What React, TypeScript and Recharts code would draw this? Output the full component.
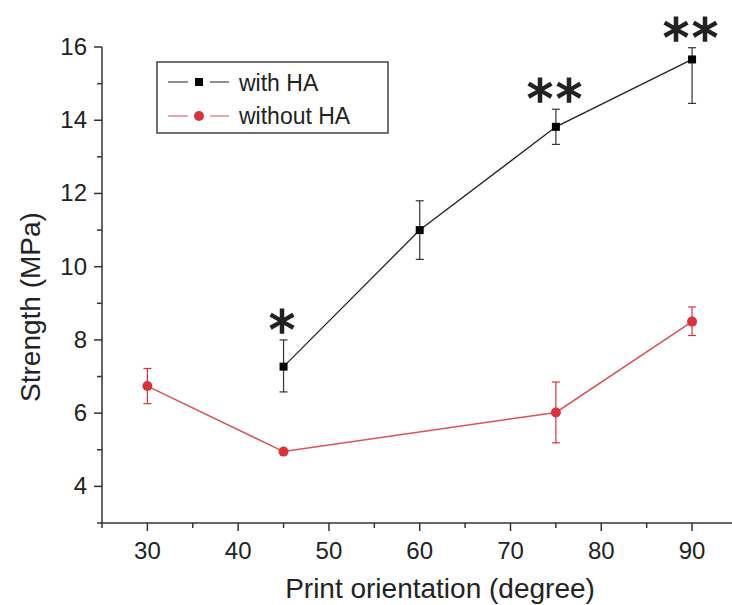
import React from 'react';
import {
  ComposedChart,
  Line,
  Scatter,
  XAxis,
  YAxis,
  ErrorBar,
  Legend,
  Label,
} from 'recharts';

// orientation in degrees
const angles = [30, 45, 60, 75, 90];

// with HA (no sample at 30)
const withHA = [null, 7.27, 11.0, 13.82, 15.66];
const withHALow = [0, 0.69, 0.8, 0.48, 1.2];
const withHAHigh = [0, 0.73, 0.8, 0.48, 0.32];
const significance = ['', '*', '', '**', '**'];

// without HA
const withoutHA = [6.74, 4.95, null, 6.02, 8.5];
const withoutHALow = [0.48, 0, 0, 0.83, 0.38];
const withoutHAHigh = [0.48, 0, 0, 0.83, 0.4];

const xTicks = [25, 30, 35, 40, 45, 50, 55, 60, 65, 70, 75, 80, 85, 90];
const yTicks = [3, 4, 5, 6, 7, 8, 9, 10, 11, 12, 13, 14, 15, 16];

const FONT = '"Liberation Sans", Arial, sans-serif';
const RED = '#d8333c';

const withData = angles
  .map((a, i) => ({
    angle: a,
    value: withHA[i],
    err: [withHALow[i], withHAHigh[i]],
  }))
  .filter((d) => d.value !== null);

const withoutData = angles
  .map((a, i) => ({
    angle: a,
    value: withoutHA[i],
    err: [withoutHALow[i], withoutHAHigh[i]],
  }))
  .filter((d) => d.value !== null);

const sigData = angles
  .map((a, i) => ({
    angle: a,
    top: withHA[i] === null ? null : (withHA[i] as number) + withHAHigh[i],
    mark: significance[i],
  }))
  .filter((d) => d.mark !== '');

const XTick = (props: any) => {
  const { x, y, payload } = props;
  const major = payload.value % 10 === 0;
  return (
    <g>
      <line x1={x} x2={x} y1={y} y2={y + (major ? 8 : 5)} stroke="#333" strokeWidth={1.5} />
      {major && (
        <text x={x} y={y + 36} textAnchor="middle" fontSize={24} fontFamily={FONT} fill="#222">
          {payload.value}
        </text>
      )}
    </g>
  );
};

const YTick = (props: any) => {
  const { x, y, payload } = props;
  const major = payload.value % 2 === 0;
  return (
    <g>
      <line x1={x} x2={x - (major ? 8 : 5)} y1={y} y2={y} stroke="#333" strokeWidth={1.5} />
      {major && (
        <text x={x - 15} y={y + 8} textAnchor="end" fontSize={24} fontFamily={FONT} fill="#222">
          {payload.value}
        </text>
      )}
    </g>
  );
};

const YTitle = (props: any) => {
  const { viewBox } = props;
  const cx = viewBox.x + 30;
  const cy = viewBox.y + viewBox.height / 2 + 22;
  return (
    <text
      x={cx}
      y={cy}
      transform={`rotate(-90 ${cx} ${cy})`}
      textAnchor="middle"
      dominantBaseline="central"
      fontSize={28}
      fontFamily={FONT}
      fill="#222"
    >
      Strength (MPa)
    </text>
  );
};

const XTitle = (props: any) => {
  const { viewBox } = props;
  const cx = viewBox.x + viewBox.width / 2 + 23;
  return (
    <text x={cx} y={viewBox.y + 75} textAnchor="middle" fontSize={28} fontFamily={FONT} fill="#222">
      Print orientation (degree)
    </text>
  );
};

const SquareDot = (props: any) => {
  const { cx, cy } = props;
  if (cx == null || cy == null) return null;
  return <rect x={cx - 4} y={cy - 4} width={8} height={8} fill="#000" />;
};

const RoundDot = (props: any) => {
  const { cx, cy } = props;
  if (cx == null || cy == null) return null;
  return <circle cx={cx} cy={cy} r={5} fill={RED} />;
};

const SigMark = (props: any) => {
  const { cx, cy, payload } = props;
  return (
    <text
      x={cx}
      y={cy + 8}
      textAnchor="middle"
      fontSize={52}
      stroke="#222"
      strokeWidth={1.6}
      letterSpacing={3}
      fontFamily='"DejaVu Sans", sans-serif'
      fill="#222"
    >
      {payload.mark}
    </text>
  );
};

const LegendBox = () => (
  <svg width={234} height={74}>
    <rect x={1} y={1} width={231} height={71} fill="#fff" stroke="#444" strokeWidth={1.5} />
    <line x1={12} x2={32} y1={21} y2={21} stroke="#444" strokeWidth={1.2} />
    <line x1={54} x2={73} y1={21} y2={21} stroke="#444" strokeWidth={1.2} />
    <rect x={39} y={17} width={8} height={8} fill="#000" />
    <text x={83} y={30} fontSize={23} fontFamily={FONT} fill="#222">with HA</text>
    <line x1={12} x2={32} y1={55} y2={55} stroke="#e08a92" strokeWidth={1.5} />
    <line x1={54} x2={73} y1={55} y2={55} stroke="#e08a92" strokeWidth={1.5} />
    <circle cx={43} cy={55} r={5} fill={RED} />
    <text x={83} y={63} fontSize={23} fontFamily={FONT} fill="#222">without HA</text>
  </svg>
);

export default function App() {
  return (
    <div style={{ position: 'absolute', left: 0, top: 0, width: 732, height: 605, background: '#fff' }}>
      <ComposedChart
        width={732}
        height={605}
        margin={{ top: 47, right: 0, bottom: 0, left: 0 }}
      >
        <XAxis
          type="number"
          dataKey="angle"
          domain={[25, 94.4]}
          ticks={xTicks}
          height={82}
          tickSize={0}
          tickMargin={0}
          tickLine={false}
          tick={<XTick />}
          axisLine={{ stroke: '#333', strokeWidth: 1.5 }}
          interval={0}
        >
          <Label content={<XTitle />} />
        </XAxis>
        <YAxis
          type="number"
          domain={[3, 16]}
          ticks={yTicks}
          width={102}
          tickSize={0}
          tickMargin={0}
          tickLine={false}
          tick={<YTick />}
          axisLine={{ stroke: '#333', strokeWidth: 1.5 }}
          interval={0}
        >
          <Label content={<YTitle />} />
        </YAxis>
        <Legend
          layout="horizontal"
          verticalAlign="middle"
          align="center"
          content={<LegendBox />}
          wrapperStyle={{ position: 'absolute', left: 156, top: 61, width: 234, height: 74 }}
        />
        <Line
          data={withoutData}
          dataKey="value"
          name="without HA"
          stroke="#d9525b"
          strokeWidth={1.5}
          dot={<RoundDot />}
          activeDot={false}
          isAnimationActive={false}
        >
          <ErrorBar dataKey="err" width={4} stroke={RED} strokeWidth={1.2} direction="y" />
        </Line>
        <Line
          data={withData}
          dataKey="value"
          name="with HA"
          stroke="#222"
          strokeWidth={1.3}
          dot={<SquareDot />}
          activeDot={false}
          isAnimationActive={false}
        >
          <ErrorBar dataKey="err" width={4} stroke="#333" strokeWidth={1.2} direction="y" />
        </Line>
        <Scatter
          data={sigData}
          dataKey="top"
          shape={<SigMark />}
          isAnimationActive={false}
        />
      </ComposedChart>
    </div>
  );
}
